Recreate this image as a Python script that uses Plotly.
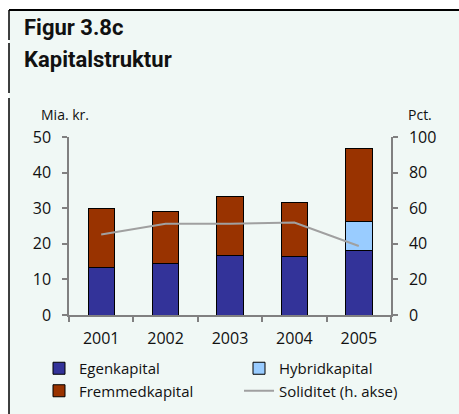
import plotly.graph_objects as go

years = ["2001", "2002", "2003", "2004", "2005"]
egenkapital = [13.4, 14.5, 16.8, 16.3, 18.1]
hybridkapital = [0, 0, 0, 0, 8.3]
fremmedkapital = [16.6, 14.5, 16.4, 15.3, 20.4]
soliditet = [45.2, 51.2, 51.2, 52.0, 38.8]

W, H = 459, 414
L, R, T, B = 69, 391, 137, 315


def xp(px):
    return (px - L) / (R - L)


def yp(py):
    return (B - py) / (B - T)


FONT = "Open Sans"
bar_line = dict(color="black", width=1)

fig = go.Figure()
fig.add_trace(go.Bar(x=years, y=egenkapital, name="Egenkapital", legend="legend",
                     marker=dict(color="#333399", line=bar_line)))
fig.add_trace(go.Bar(x=years, y=hybridkapital, name="Hybridkapital", legend="legend2",
                     marker=dict(color="#99ccff", line=bar_line)))
fig.add_trace(go.Bar(x=years, y=fremmedkapital, name="Fremmedkapital", legend="legend",
                     marker=dict(color="#993300", line=bar_line)))
fig.add_trace(go.Scatter(x=years, y=soliditet, name="Soliditet (h. akse)", legend="legend2",
                         mode="lines", yaxis="y2",
                         line=dict(color="#a0a0a0", width=2)))

axis_color = "#808080"
leg_common = dict(orientation="v", xref="container", yref="container",
                  y=1 - 352 / H, xanchor="left", yanchor="top",
                  font=dict(size=15), bgcolor="rgba(0,0,0,0)",
                  tracegroupgap=0, itemwidth=30, traceorder="normal")
fig.update_layout(
    width=W, height=H,
    margin=dict(l=L, r=W - R, t=T, b=H - B, pad=0, autoexpand=False),
    paper_bgcolor="#f0f8f5",
    plot_bgcolor="rgba(0,0,0,0)",
    barmode="stack",
    bargap=0.59,
    font=dict(family=FONT, size=16, color="#111111"),
    showlegend=True,
    legend=dict(x=39 / W, **leg_common),
    legend2=dict(x=239 / W, **leg_common),
    xaxis=dict(type="category", showgrid=False, showline=True, linecolor=axis_color,
               linewidth=1.5, ticks="outside", tickson="boundaries", ticklen=5,
               tickcolor=axis_color, tickwidth=1.5, ticklabelstandoff=8,
               tickfont=dict(size=16)),
    yaxis=dict(range=[0, 50], dtick=10, showgrid=False, zeroline=False, showline=True,
               linecolor=axis_color, linewidth=1.5, ticks="outside", ticklen=5,
               tickcolor=axis_color, tickwidth=1.5, ticklabelstandoff=8,
               tickfont=dict(size=16)),
    yaxis2=dict(range=[0, 100], dtick=20, overlaying="y", side="right", showgrid=False,
                zeroline=False, showline=True, linecolor=axis_color, linewidth=1.5,
                ticks="outside", ticklen=5, tickcolor=axis_color, tickwidth=1.5,
                ticklabelstandoff=8, tickfont=dict(size=16)),
)

shapes = [
    # white outer strips
    dict(type="rect", xref="paper", yref="paper", x0=xp(0), x1=xp(W), y0=yp(0), y1=yp(10),
         fillcolor="white", line=dict(width=0), layer="below"),
    dict(type="rect", xref="paper", yref="paper", x0=xp(0), x1=xp(9), y0=yp(0), y1=yp(H),
         fillcolor="white", line=dict(width=0), layer="below"),
    # frame lines
    dict(type="line", xref="paper", yref="paper", x0=xp(9), x1=xp(W), y0=yp(10), y1=yp(10),
         line=dict(color="black", width=2)),
    dict(type="line", xref="paper", yref="paper", x0=xp(9), x1=xp(9), y0=yp(10), y1=yp(40),
         line=dict(color="black", width=1.5)),
    dict(type="line", xref="paper", yref="paper", x0=xp(9), x1=xp(9), y0=yp(43), y1=yp(93),
         line=dict(color="black", width=1.5)),
    dict(type="line", xref="paper", yref="paper", x0=xp(9), x1=xp(9), y0=yp(98), y1=yp(H),
         line=dict(color="black", width=1.5)),
]
fig.update_layout(shapes=shapes)

ann = [
    dict(text="<b>Figur 3.8c</b>", x=xp(22), y=yp(27), xanchor="left", yanchor="middle",
         font=dict(family="Roboto", size=22, color="#111111")),
    dict(text="<b>Kapitalstruktur</b>", x=xp(22), y=yp(60), xanchor="left", yanchor="middle",
         font=dict(family="Roboto", size=22, color="#111111")),
    dict(text="Mia. kr.", x=xp(39), y=yp(114), xanchor="left", yanchor="middle",
         font=dict(size=14)),
    dict(text="Pct.", x=xp(434), y=yp(114), xanchor="right", yanchor="middle",
         font=dict(size=14)),
]
for a in ann:
    a.update(xref="paper", yref="paper", showarrow=False)
fig.update_layout(annotations=ann)

fig.write_html("out.html", config={"displayModeBar": False},
               post_script="document.body.style.margin='0';document.body.style.overflow='hidden';")
